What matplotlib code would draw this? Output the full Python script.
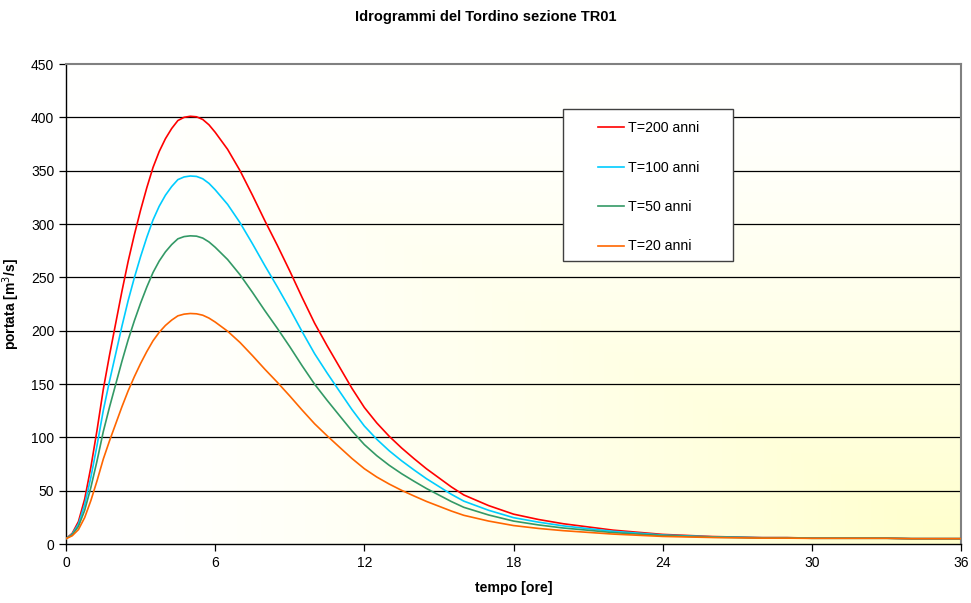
import numpy as np
import matplotlib.pyplot as plt
from matplotlib.patches import Rectangle

plt.rcParams['font.family'] = ['Liberation Sans', 'DejaVu Sans']

# tempo [ore]
t = [0, 0.25, 0.5, 0.75, 1, 1.25, 1.5, 1.75, 2, 2.25, 2.5, 2.75, 3, 3.25, 3.5,
     3.75, 4, 4.25, 4.5, 4.75, 5, 5.25, 5.5, 5.75, 6, 6.5, 7, 7.5, 8, 8.5, 9,
     9.5, 10, 10.5, 11, 11.5, 12, 12.5, 13, 13.5, 14, 14.5, 15, 15.5, 16, 17,
     18, 19, 20, 21, 22, 23, 24, 25, 26, 27, 28, 29, 30, 31, 32, 33, 34, 35, 36]

# portata [m3/s]
q200 = [5, 10, 21, 42, 72, 107, 145, 177, 207, 237, 265, 290, 313, 334, 353,
        368, 380, 389.5, 397, 400, 401, 400.5, 398, 393, 386, 370, 350, 327,
        303, 280, 256, 231, 207, 186, 166, 146, 128, 113.5, 101, 90, 80, 70.5,
        62, 53.5, 46, 36, 28, 23, 19, 16, 13, 11, 9, 8, 7, 6.5, 6, 6, 5.5, 5.5,
        5.5, 5.5, 5, 5, 5]
q100 = [5, 9.3, 18.7, 36.8, 62.5, 92.6, 125.2, 152.7, 178.4, 204.2, 228.2,
        249.7, 269.4, 287.5, 303.8, 316.7, 327, 335.1, 341.6, 344.1, 345,
        344.6, 342.4, 338.1, 332.1, 318.4, 301.2, 281.5, 260.9, 241.1, 220.5,
        199, 178.4, 160.4, 143.2, 126.1, 110.6, 98.2, 87.4, 78, 69.4, 61.2,
        53.9, 46.6, 40.2, 31.6, 24.7, 20.5, 17, 14.4, 11.9, 10.2, 8.4, 7.6, 6.7,
        6.3, 5.9, 5.9, 5.4, 5.4, 5.4, 5.4, 5, 5, 5]
q50 = [5, 8.6, 16.5, 31.5, 53, 78.1, 105.4, 128.3, 149.8, 171.3, 191.4, 209.3,
       225.8, 240.9, 254.5, 265.3, 273.9, 280.7, 286.1, 288.2, 288.9, 288.6,
       286.8, 283.2, 278.2, 266.7, 252.4, 235.9, 218.7, 202.2, 185, 167, 149.8,
       134.8, 120.4, 106.1, 93.2, 82.8, 73.8, 65.9, 58.8, 52, 45.9, 39.8, 34.4,
       27.2, 21.5, 17.9, 15, 12.9, 10.7, 9.3, 7.9, 7.2, 6.4, 6.1, 5.7, 5.7,
       5.4, 5.4, 5.4, 5.4, 5, 5, 5]
q20 = [5, 7.7, 13.5, 24.7, 40.7, 59.4, 79.6, 96.7, 112.7, 128.7, 143.6, 156.9,
       169.2, 180.4, 190.5, 198.5, 204.9, 209.9, 213.9, 215.5, 216.1, 215.8,
       214.5, 211.8, 208.1, 199.5, 188.9, 176.6, 163.8, 151.6, 138.8, 125.5,
       112.7, 101.5, 90.8, 80.2, 70.6, 62.8, 56.2, 50.3, 45, 39.9, 35.4, 30.9,
       26.9, 21.5, 17.3, 14.6, 12.5, 10.9, 9.3, 8.2, 7.1, 6.6, 6.1, 5.8, 5.5,
       5.5, 5.3, 5.3, 5.3, 5.3, 5, 5, 5]

labels = ['T=200 anni', 'T=100 anni', 'T=50 anni', 'T=20 anni']
colors = ['#FF0000', '#00CCFF', '#339966', '#FF6600']

fig = plt.figure(figsize=(9.71, 6.03), dpi=100)
ax = fig.add_axes([66/971, 59/603, 895/971, 480/603])

# sfondo sfumato bianco -> giallo chiaro verso l'angolo in basso a destra
n = 300
u = np.linspace(0, 1, n)
U, V = np.meshgrid(u, u)
s = np.minimum(U, V) ** 1.4
img = np.ones((n, n, 3))
img[:, :, 2] = 1 - s * (1 - 204/255)
ax.imshow(img, extent=[0, 1, 0, 1], transform=ax.transAxes, aspect='auto',
          zorder=0, origin='upper')

for yv in range(50, 450, 50):
    ax.axhline(yv, color='black', lw=0.9, zorder=1)

for q, lab, c in zip([q200, q100, q50, q20], labels, colors):
    ax.plot(t, q, color=c, lw=1.2, label=lab, zorder=3)

ax.set_xlim(0, 36)
ax.set_ylim(0, 450)
ax.set_xticks(range(0, 37, 6))
ax.set_yticks(range(0, 451, 50))
ax.tick_params(direction='out', length=5, width=0.9, labelsize=10, color='black')
for side in ['left', 'bottom']:
    ax.spines[side].set_color('black')
    ax.spines[side].set_linewidth(1.0)
for side in ['top', 'right']:
    ax.spines[side].set_color('#808080')
    ax.spines[side].set_linewidth(1.5)

ax.set_xlabel('tempo [ore]', fontsize=10.2, fontweight='bold', labelpad=8)
ax.set_ylabel('portata [m$^3$/s]', fontsize=10, fontweight='bold', labelpad=6)
fig.text(0.5, 1 - 17/603, 'Idrogrammi del Tordino sezione TR01', fontsize=10.5,
         fontweight='bold', ha='center', va='center')

# cornice della legenda
x0, y0 = (563 - 66) / 895, (544 - 261) / 480
w, h = (733 - 563) / 895, (261 - 109) / 480
ax.add_patch(Rectangle((x0, y0), w, h, transform=ax.transAxes, facecolor='white',
                       edgecolor='#404040', lw=1.0, zorder=4))
leg = ax.legend(loc='upper left', bbox_to_anchor=((598 - 66) / 895, (544 - 121) / 480),
                frameon=False, fontsize=10.2, labelspacing=1.8,
                handlelength=1.8, handletextpad=0.3, borderpad=0, borderaxespad=0)
leg.set_zorder(5)

fig.savefig('out.png', dpi=100)
